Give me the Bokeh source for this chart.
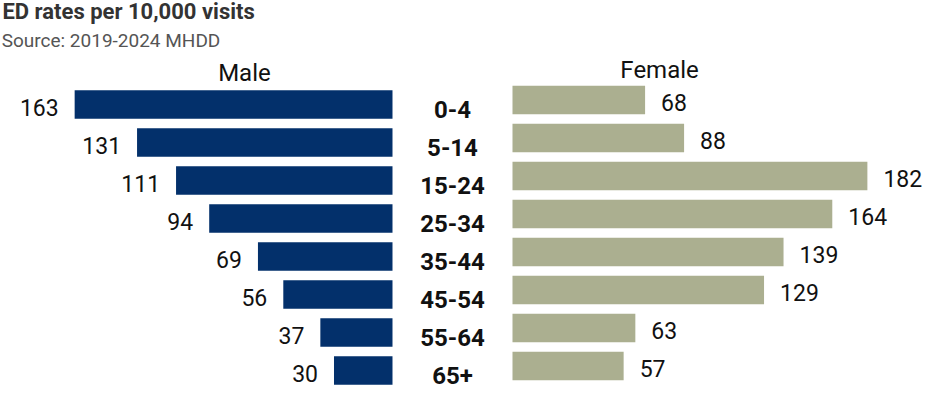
from bokeh.plotting import figure
from bokeh.models import Range1d, ColumnDataSource, Label
from bokeh.core.properties import value
from bokeh.embed import file_html
from bokeh.resources import INLINE

# ---- data ----
age_groups = ["0-4", "5-14", "15-24", "25-34", "35-44", "45-54", "55-64", "65+"]
male_rates = [163, 131, 111, 94, 69, 56, 37, 30]
female_rates = [68, 88, 182, 164, 139, 129, 63, 57]
title_text = "ED rates per 10,000 visits"
source_text = "Source: 2019-2024 MHDD"

# ---- layout parameters ----
GAP = 30.77          # half gap between the two sides, in data units
MALE_COLOR = "#03306B"
FEMALE_COLOR = "#ABAF90"
NUM_FONT = "Roboto"

n = len(age_groups)
rows = list(range(n))

male_src = ColumnDataSource(dict(
    y=rows,
    left=[-(v + GAP) for v in male_rates],
    right=[-GAP] * n,
    ty=[r + 0.08 for r in rows],
    label=[str(v) for v in male_rates],
))
female_src = ColumnDataSource(dict(
    y=[r - 0.12 for r in rows],
    left=[GAP] * n,
    right=[GAP + v for v in female_rates],
    ty=[r - 0.06 for r in rows],
    label=[str(v) for v in female_rates],
))
cat_src = ColumnDataSource(dict(x=[0] * n, y=[r + 0.13 for r in rows], label=age_groups))

p = figure(width=927, height=398,
           x_range=Range1d(-231.8, 243.6), y_range=Range1d(7.737, -2.737),
           output_backend="svg", toolbar_location=None,
           x_axis_location=None, y_axis_location=None, min_border=0)
p.outline_line_color = None
p.grid.visible = False
p.background_fill_color = "white"

p.hbar(y="y", left="left", right="right", height=0.75, source=male_src,
       fill_color=MALE_COLOR, line_color=None)
p.hbar(y="y", left="left", right="right", height=0.75, source=female_src,
       fill_color=FEMALE_COLOR, line_color=None)

p.text(x="left", y="ty", text="label", source=male_src, text_align="right",
       text_baseline="middle", x_offset=-16, text_font=value(NUM_FONT),
       text_font_size="23px", text_color="#111111")
p.text(x="right", y="ty", text="label", source=female_src, text_align="left",
       text_baseline="middle", x_offset=16, text_font=value(NUM_FONT),
       text_font_size="23px", text_color="#111111")
p.text(x="x", y="y", text="label", source=cat_src, text_align="center",
       text_baseline="middle", text_font=value("Roboto"), text_font_style="bold",
       text_font_size="24px", text_color="#111111")

p.add_layout(Label(x=-106.7, y=-0.82, text="Male", text_align="center",
                   text_baseline="middle", text_font="Roboto",
                   text_font_size="24px", text_color="#111111"))
p.add_layout(Label(x=106.2, y=-0.92, text="Female", text_align="center",
                   text_baseline="middle", text_font="Roboto",
                   text_font_size="24px", text_color="#111111"))
p.add_layout(Label(x=-230.8, y=-2.44, text=title_text, text_align="left",
                   text_baseline="middle", text_font="Roboto", text_font_style="bold",
                   text_font_size="22px", text_color="#333333"))
p.add_layout(Label(x=-231.2, y=-1.68, text=source_text, text_align="left",
                   text_baseline="middle", text_font="Roboto",
                   text_font_size="19px", text_color="#555555"))

open("out.html", "w").write(file_html(p, INLINE))
